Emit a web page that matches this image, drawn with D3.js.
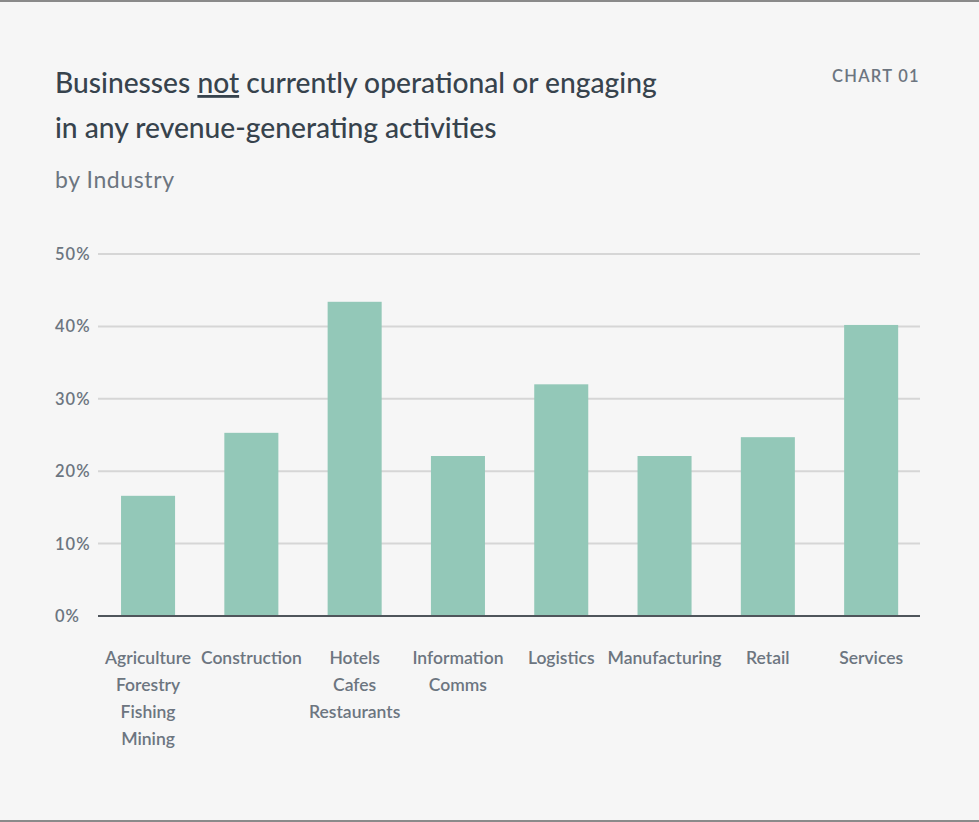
<!DOCTYPE html>
<html><head><meta charset="utf-8">
<script src="https://cdn.jsdelivr.net/npm/d3@7"></script>
<style>
html,body{margin:0;padding:0;background:#f6f6f6;}
svg{display:block;}
</style></head>
<body>
<svg id="chart" width="979" height="822"></svg>
<script>
const categories = [
  ["Agriculture","Forestry","Fishing","Mining"],
  ["Construction"],
  ["Hotels","Cafes","Restaurants"],
  ["Information","Comms"],
  ["Logistics"],
  ["Manufacturing"],
  ["Retail"],
  ["Services"]
];
const values = [16.6, 25.3, 43.4, 22.1, 32.0, 22.1, 24.7, 40.2];
const yTicks = [0, 10, 20, 30, 40, 50];

const svg = d3.select("#chart");
const W = 979, H = 822;
const font = "Lato, 'Open Sans', sans-serif";
svg.append("rect").attr("width", W).attr("height", H).attr("fill", "#f6f6f6");
svg.append("rect").attr("x",0).attr("y",0).attr("width",W).attr("height",2).attr("fill","#8a8a8a");
svg.append("rect").attr("x",0).attr("y",H-2).attr("width",W).attr("height",2).attr("fill","#8a8a8a");

const m = {left: 98, right: 920, top: 254, bottom: 616};
const keys = categories.map(c => c.join(" "));
const x = d3.scaleBand().domain(keys).range([96.4, 922.8]).paddingInner(0.477).paddingOuter(0.2385);
const y = d3.scaleLinear().domain([0, 50]).range([m.bottom, m.top]);

// title
const t = svg.append("text").attr("x", 55).attr("y", 93).attr("fill", "#37434d")
  .attr("font-family", font).attr("font-size", 28.2).attr("font-weight", 500);
t.append("tspan").text("Businesses ");
t.append("tspan").text("not").attr("text-decoration", "underline");
t.append("tspan").text(" currently operational or engaging");
svg.append("text").attr("x", 55).attr("y", 138).attr("fill", "#37434d")
  .attr("font-family", font).attr("font-size", 28.2).attr("font-weight", 500)
  .text("in any revenue-generating activities");
svg.append("text").attr("x", 55).attr("y", 188).attr("fill", "#6c7580")
  .attr("font-family", font).attr("font-size", 23).attr("letter-spacing", 0.6)
  .text("by Industry");
svg.append("text").attr("x", 920).attr("y", 82).attr("text-anchor", "end").attr("fill", "#6c7580")
  .attr("font-family", font).attr("font-size", 16.5).attr("font-weight", 600).attr("letter-spacing", 1.3)
  .text("CHART 01");

// gridlines
svg.append("g").selectAll("line").data(yTicks.filter(d => d > 0)).join("line")
  .attr("x1", m.left).attr("x2", m.right)
  .attr("y1", d => y(d)).attr("y2", d => y(d))
  .attr("stroke", "#d6d6d6").attr("stroke-width", 2);

// y labels
svg.append("g").selectAll("text").data(yTicks).join("text")
  .attr("x", 55).attr("y", d => y(d) + 6)
  .attr("fill", "#6c7580").attr("font-family", font).attr("font-size", 16.5).attr("font-weight", 600)
  .attr("letter-spacing", 1)
  .text(d => d + "%");

// bars
svg.append("g").selectAll("rect").data(values).join("rect")
  .attr("x", (d, i) => x(keys[i])).attr("width", x.bandwidth())
  .attr("y", d => y(d)).attr("height", d => y(0) - y(d))
  .attr("fill", "#93c8b8");

// baseline
svg.append("line").attr("x1", m.left).attr("x2", m.right).attr("y1", y(0)).attr("y2", y(0))
  .attr("stroke", "#4f555b").attr("stroke-width", 2);

// x labels
const xl = svg.append("g").selectAll("text").data(categories).join("text")
  .attr("x", (d, i) => x(keys[i]) + x.bandwidth() / 2).attr("y", 664)
  .attr("text-anchor", "middle").attr("fill", "#6c7580")
  .attr("font-family", font).attr("font-size", 17.5).attr("font-weight", 600);
xl.selectAll("tspan").data(d => d).join("tspan")
  .attr("x", function() { return this.parentNode.getAttribute("x"); })
  .attr("dy", (d, j) => j === 0 ? 0 : 27)
  .text(d => d);
</script>
</body></html>
